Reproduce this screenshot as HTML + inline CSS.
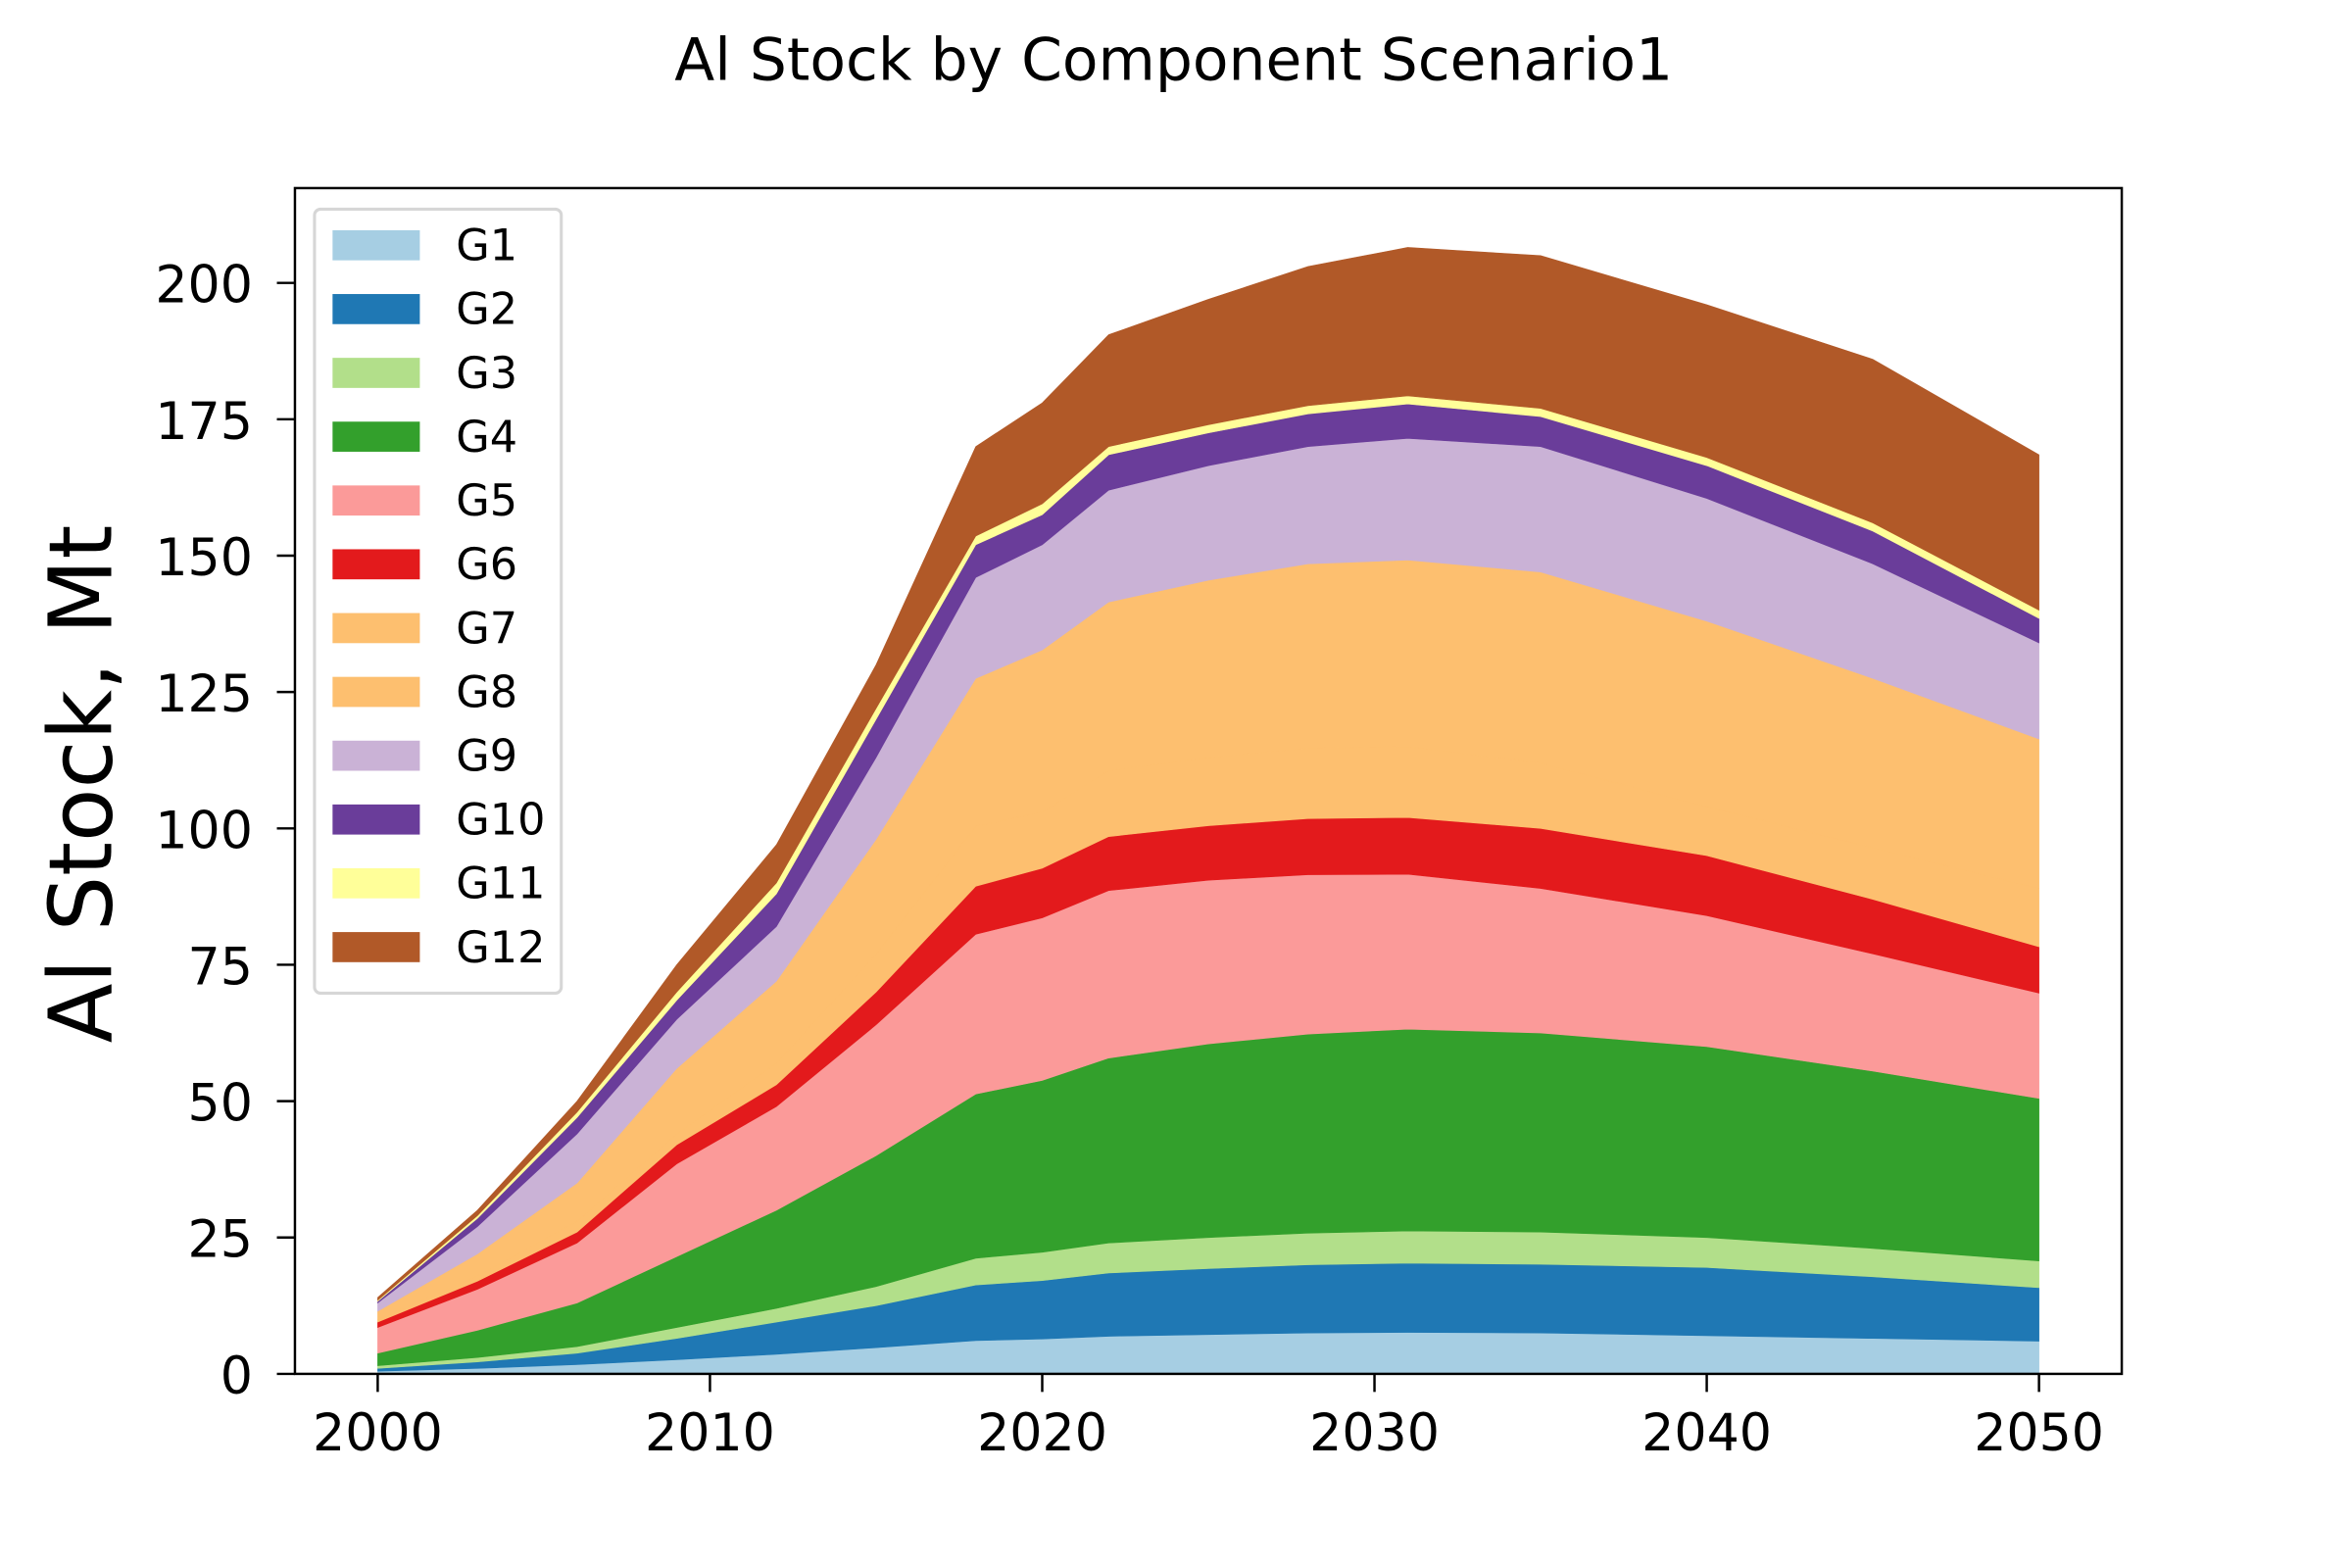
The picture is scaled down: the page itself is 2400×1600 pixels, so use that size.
<!DOCTYPE html>
<html><head><meta charset="utf-8"><style>
html,body{margin:0;padding:0;background:#fff;}
svg{display:block;font-family:"DejaVu Sans","Liberation Sans",sans-serif;}
</style></head><body>
<svg id="chart" width="2400" height="1600" viewBox="0 0 1563 1042" preserveAspectRatio="none" xmlns="http://www.w3.org/2000/svg">
<rect width="1563" height="1042" fill="#fff"/>
<text x="780" y="53" font-size="39" text-anchor="middle">Al Stock by Component Scenario1</text>
<text transform="translate(74,521) rotate(-90)" font-size="58" text-anchor="middle">Al Stock, Mt</text>
<g id="areas"></g>
<g id="axes"></g>
<rect x="196" y="125" width="1214" height="788" fill="none" stroke="#000" stroke-width="1.6"/>
<g id="legend"></g>
</svg>
<script>
const years = [2000,2003,2006,2009,2012,2015,2018,2020,2022,2025,2028,2031,2035,2040,2045,2050];
const seriesNames = ["G1","G2","G3","G4","G5","G6","G7","G8","G9","G10","G11","G12"];
const g1 = [0.5,1.0,1.7,2.6,3.6,4.8,6.1,6.4,6.9,7.2,7.5,7.6,7.5,7.0,6.5,6.0];
const g2 = [0.5,1.2,2.1,3.9,5.9,7.7,10.2,10.7,11.6,12.1,12.5,12.7,12.6,12.5,11.3,9.8];
const g3 = [0.5,0.8,1.2,2.0,2.5,3.5,4.9,5.2,5.5,5.7,5.8,5.9,5.9,5.5,5.2,4.9];
const g4 = [2.3,5,8,13,18,24,30.1,31.5,33.9,35.5,36.5,37,36.5,35,32.5,29.8];
const g5 = [4.7,7.5,11,17,19,24,29.3,29.8,30.7,30,29.2,28.4,26.5,24,21.5,19.3];
const g6 = [1,1.5,2,3.5,4,6,8.8,9.1,9.9,10,10.3,10.4,11,11,10,8.5];
const g7 = [0.5,1,2,2,4,7,11,10.3,12.1,12.5,12.9,13,12,9,9.5,10.7];
const g8 = [1.5,4,7,12,15,21,27.1,29.7,30.9,32.5,33.8,34.2,35,34,31,27.4];
const g9 = [1.5,5,9,9,10,15,18.5,19.3,20.5,21,21.5,22.3,23,22.5,21,17.6];
const g10 = [0.3,1.5,3,3.5,6,7,6,5.5,6.5,6,6,6.3,5.5,6,6,4.5];
const g11 = [0.2,0.5,1,1.5,2,2,1.6,2,1.5,1.5,1.5,1.5,1.5,1.5,1.5,1.5];
const g12 = [0.5,1,2,5,7,8,16.4,18.5,20.5,23,25.5,27.2,28,28,30,28.5];
const yTicks = [0,25,50,75,100,125,150,175,200];
const xTicks = [2000,2010,2020,2030,2040,2050];

const allSeries = [g1,g2,g3,g4,g5,g6,g7,g8,g9,g10,g11,g12];
const colors = ["#a6cee3","#1f78b4","#b2df8a","#33a02c","#fb9a99","#e31a1c","#fdbf6f","#fdbf6f","#cab2d6","#6a3d9a","#ffff99","#b15928"];
const NS = "http://www.w3.org/2000/svg";
function xScale(v){ return 251 + (v-2000)*(1355-251)/50; }
function yScale(v){ return 913 - v*(913-188)/200; }

const areas = document.getElementById('areas');
let base = years.map(()=>0);
allSeries.forEach((s,i)=>{
  const top = base.map((b,j)=>b+s[j]);
  let pts = years.map((y,j)=>xScale(y)+','+yScale(top[j]));
  for(let j=years.length-1;j>=0;j--) pts.push(xScale(years[j])+','+yScale(base[j]));
  const p = document.createElementNS(NS,'polygon');
  p.setAttribute('points', pts.join(' '));
  p.setAttribute('fill', colors[i]);
  p.setAttribute('stroke', colors[i]);
  p.setAttribute('stroke-width', '0.4');
  
  
  areas.appendChild(p);
  base = top;
});

const axes = document.getElementById('axes');
yTicks.forEach(t=>{
  const y = yScale(t);
  const l = document.createElementNS(NS,'line');
  l.setAttribute('x1',184); l.setAttribute('x2',196); l.setAttribute('y1',y); l.setAttribute('y2',y);
  l.setAttribute('stroke','#000'); l.setAttribute('stroke-width','1.6');
  
  
  axes.appendChild(l);
  const tx = document.createElementNS(NS,'text');
  tx.setAttribute('x',168); tx.setAttribute('y',y+13); tx.setAttribute('font-size','34'); tx.setAttribute('text-anchor','end');
  tx.textContent = t;
  
  
  axes.appendChild(tx);
});
xTicks.forEach(t=>{
  const x = xScale(t);
  const l = document.createElementNS(NS,'line');
  l.setAttribute('x1',x); l.setAttribute('x2',x); l.setAttribute('y1',913); l.setAttribute('y2',925);
  l.setAttribute('stroke','#000'); l.setAttribute('stroke-width','1.6');
  
  
  axes.appendChild(l);
  const tx = document.createElementNS(NS,'text');
  tx.setAttribute('x',x); tx.setAttribute('y',964); tx.setAttribute('font-size','34'); tx.setAttribute('text-anchor','middle');
  tx.textContent = t;
  
  
  axes.appendChild(tx);
});

const legend = document.getElementById('legend');
const box = document.createElementNS(NS,'rect');
box.setAttribute('x',209); box.setAttribute('y',139); box.setAttribute('width',164); box.setAttribute('height',521);
box.setAttribute('rx',4); box.setAttribute('fill','#fff'); box.setAttribute('fill-opacity','0.8');
box.setAttribute('stroke','#d6d6d6'); box.setAttribute('stroke-width','2');


legend.appendChild(box);
seriesNames.forEach((n,i)=>{
  const cy = 163 + i*42.4;
  const r = document.createElementNS(NS,'rect');
  r.setAttribute('x',221); r.setAttribute('y',cy-10); r.setAttribute('width',58); r.setAttribute('height',20);
  r.setAttribute('fill',colors[i]);
  
  
  legend.appendChild(r);
  const tx = document.createElementNS(NS,'text');
  tx.setAttribute('x',303); tx.setAttribute('y',cy+10); tx.setAttribute('font-size','29');
  tx.textContent = n;
  
  
  legend.appendChild(tx);
});
</script>
</body></html>
